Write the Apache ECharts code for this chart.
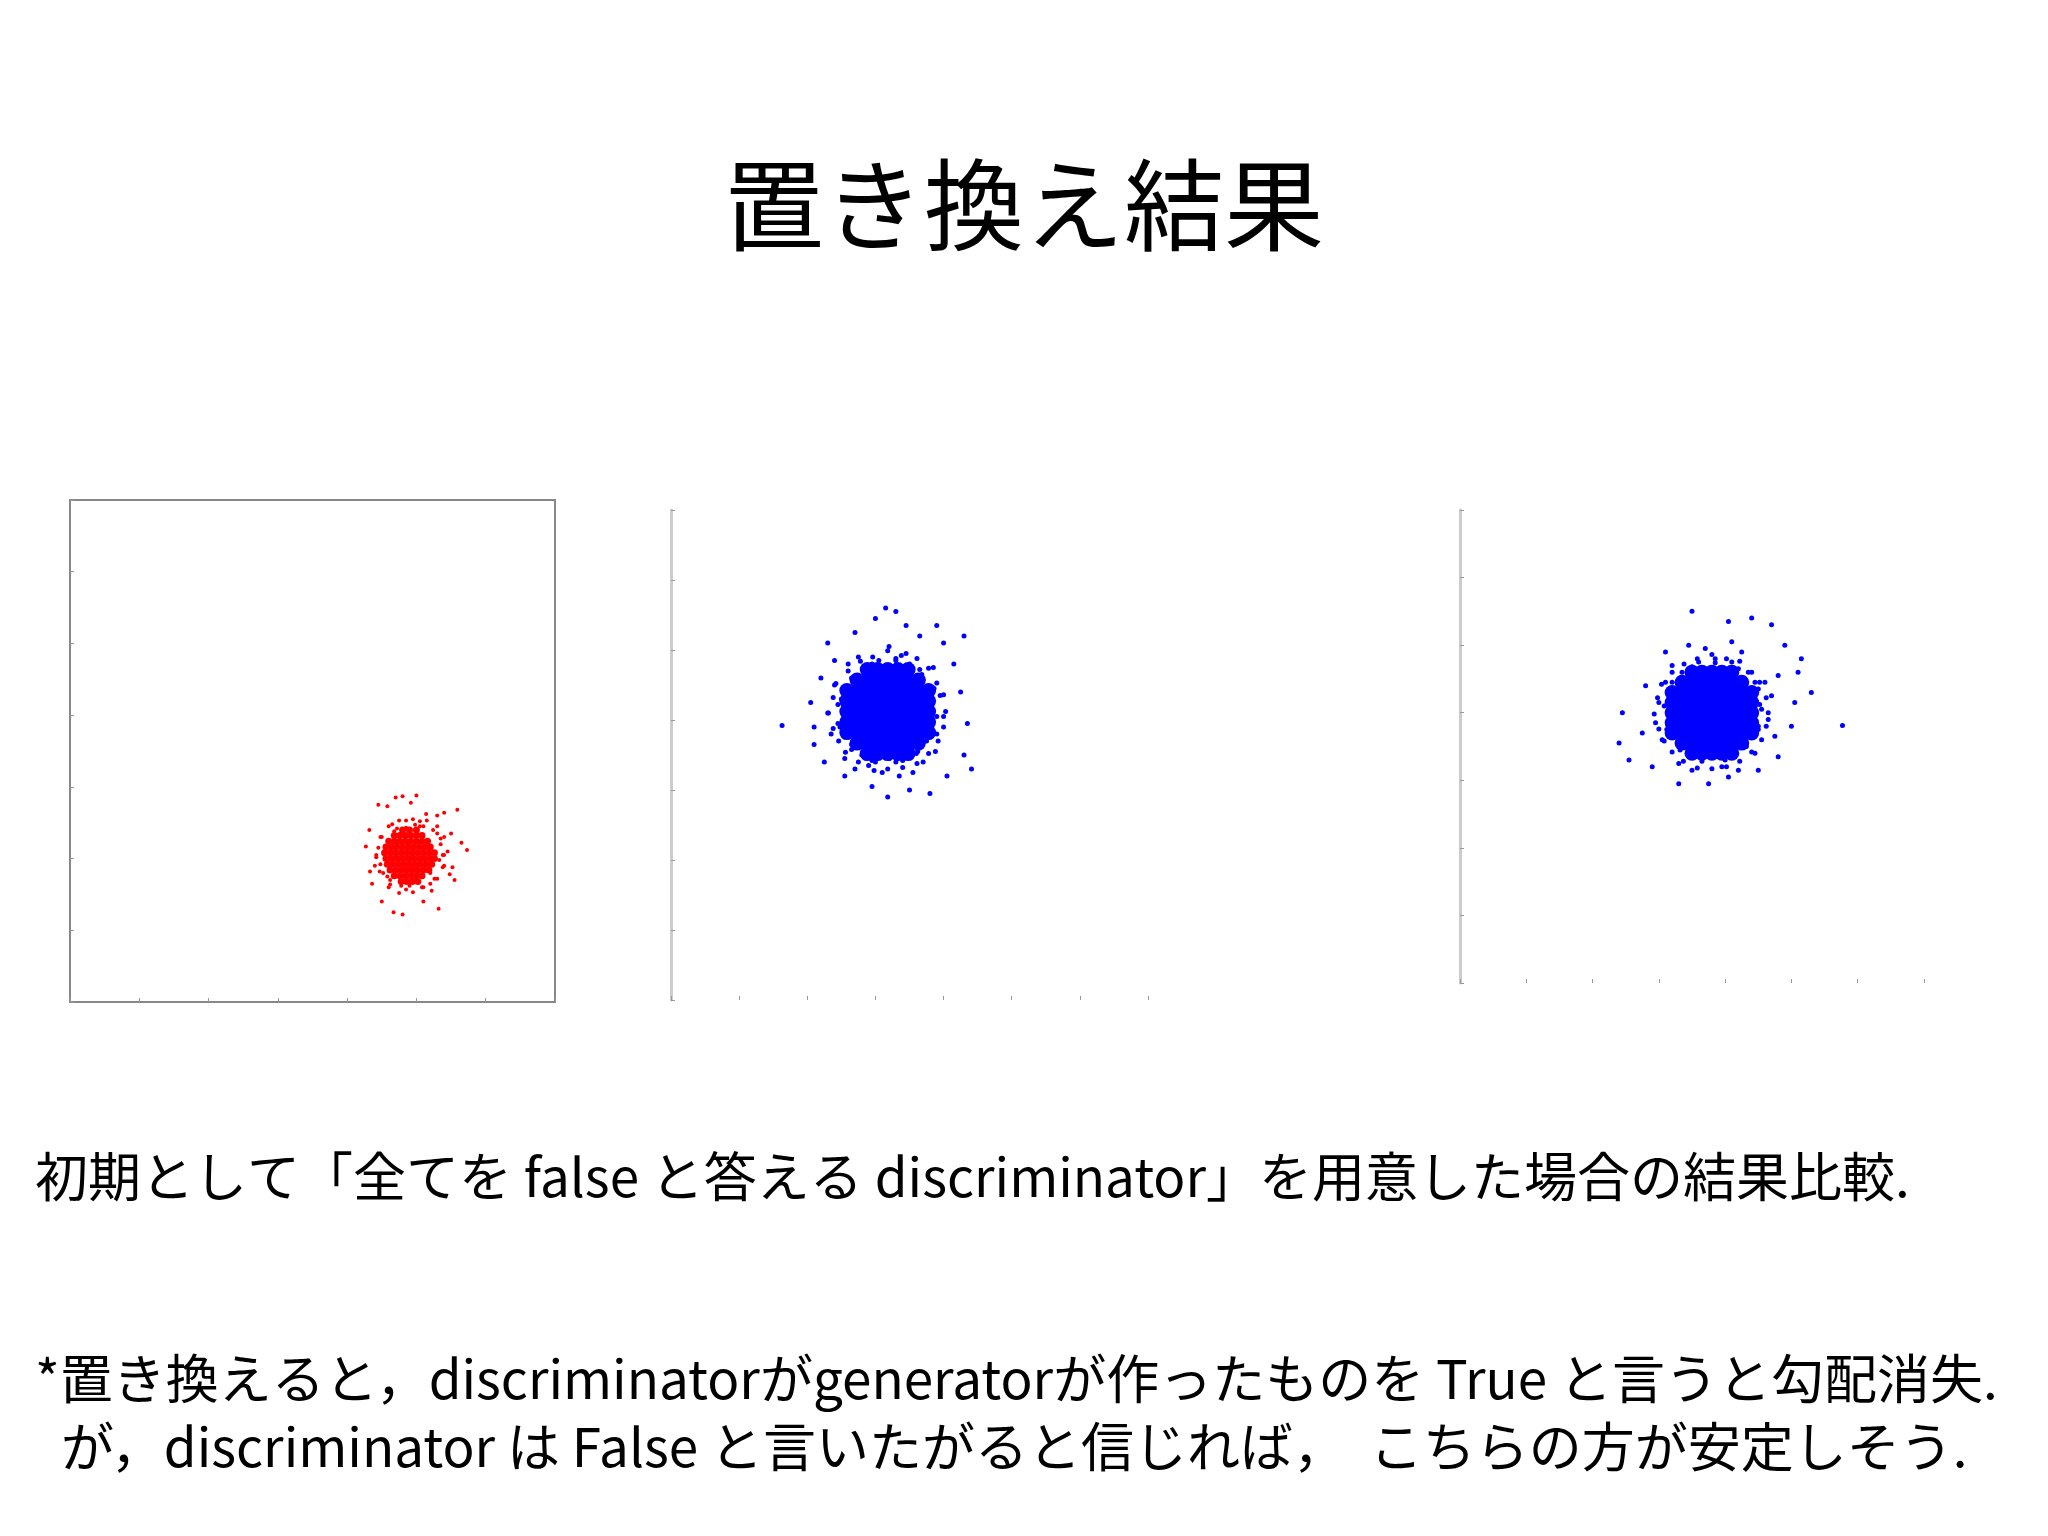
<!DOCTYPE html>
<html><head><meta charset="utf-8">
<script src="https://cdn.jsdelivr.net/npm/echarts@6/dist/echarts.min.js"></script>
<style>html,body{margin:0;padding:0;background:#fff}#c{width:2048px;height:1536px}</style>
</head><body><div id="c"></div>
<script>
const tickValues=[-3,-2,-1,0,1,2,3];
const titleText='置き換え結果';
const caption1='初期として「全てを false と答える discriminator」を用意した場合の結果比較.';
const caption2='*置き換えると，discriminatorがgeneratorが作ったものを True と言うと勾配消失.';
const caption3='が，discriminator は False と言いたがると信じれば，  こちらの方が安定しそう.';

const redOuter=[[1.5,-0.62],[1.3,-0.63],[1.2,-0.65],[0.95,-0.75],[1.08,-0.77],[2.09,-0.82],[1.9,-0.86],[0.82,-1.1],[2.15,-1.28],[2.23,-1.38],[0.77,-1.33],[0.83,-1.68],[0.86,-1.85],[1.0,-2.1],[1.17,-2.25],[1.3,-2.28],[1.82,-2.2],[1.6,-2.1],[2.05,-1.8],[1.72,-1.95],[0.9,-1.6],[2.0,-1.15],[1.42,-0.72],[1.64,-0.88],[1.8,-0.9],
[1.0,-1.2],[1.05,-1.5],[1.02,-1.7],[1.1,-1.9],[1.25,-1.98],[1.45,-1.97],[1.6,-1.9],[1.8,-1.78],[1.9,-1.6],[1.95,-1.4],[1.9,-1.2],[1.8,-1.05],[1.65,-0.97],[1.45,-0.95],[1.25,-0.97],[1.1,-1.05],[0.95,-1.35],[1.12,-1.8],[1.7,-1.7],[1.85,-1.3],[2.02,-1.62],[0.92,-1.48],[1.55,-1.05],[1.35,-1.07],[1.18,-1.12],[1.98,-1.72],[1.4,-1.88],[1.88,-1.45],
[1.9,-1.45],[1.85,-1.22],[1.74,-1.1],[1.55,-0.98],[1.35,-0.97],[1.15,-1.02],[0.98,-1.2],[0.92,-1.45],[0.97,-1.68],[1.12,-1.86],[1.35,-1.93],[1.58,-1.9],[1.76,-1.78],[1.88,-1.62],
[1.05,-1.32],[1.08,-1.75],[1.28,-1.88],[1.7,-1.85],[1.83,-1.52],[1.8,-1.15],[1.6,-1.05],[1.22,-1.08],[1.48,-1.03],[0.98,-1.58]];
// core rows: [y, x-values]
const redCoreRows=[[-1.1,[1.3,1.4,1.5]],[-1.18,[1.18,1.26,1.34,1.42,1.5,1.58]],[-1.26,[1.1,1.18,1.26,1.34,1.42,1.5,1.58,1.66]],[-1.34,[1.06,1.14,1.22,1.3,1.38,1.46,1.54,1.62,1.7]],[-1.42,[1.04,1.12,1.2,1.28,1.36,1.44,1.52,1.6,1.68,1.76]],[-1.5,[1.06,1.14,1.22,1.3,1.38,1.46,1.54,1.62,1.7,1.76]],[-1.58,[1.08,1.16,1.24,1.32,1.4,1.48,1.56,1.64,1.72]],[-1.66,[1.12,1.2,1.28,1.36,1.44,1.52,1.6,1.68]],[-1.74,[1.18,1.26,1.34,1.42,1.5,1.58]],[-1.82,[1.28,1.36,1.44,1.52]]];

const blueACoreRows=[[0.02,[-0.62,-0.47,-0.32,-0.17,-0.02]],[0.17,[-0.77,-0.62,-0.47,-0.32,-0.17,-0.02,0.13]],[0.32,[-0.92,-0.77,-0.62,-0.47,-0.32,-0.17,-0.02,0.13,0.28]],[0.47,[-0.92,-0.77,-0.62,-0.47,-0.32,-0.17,-0.02,0.13,0.28]],[0.62,[-0.92,-0.77,-0.62,-0.47,-0.32,-0.17,-0.02,0.13,0.28]],[0.77,[-0.92,-0.77,-0.62,-0.47,-0.32,-0.17,-0.02,0.13,0.28]],[0.92,[-0.92,-0.77,-0.62,-0.47,-0.32,-0.17,-0.02,0.13,0.28]],[1.07,[-0.77,-0.62,-0.47,-0.32,-0.17,-0.02,0.13]],[1.22,[-0.62,-0.47,-0.32,-0.17,-0.02]]];
const blueAOuter=[[-0.9,0.9],[-0.95,0.6],[-0.92,0.35],[-0.85,0.15],[-0.7,0.0],[-0.5,-0.1],[-0.3,-0.05],[-0.1,-0.08],[0.1,0.02],[0.25,0.2],[0.3,0.45],[0.32,0.7],[0.28,0.95],[0.18,1.15],[0.0,1.3],[-0.2,1.38],[-0.45,1.35],[-0.65,1.25],[-0.82,1.1],[-1.0,0.8],[-1.05,0.45],[-0.6,-0.15],[0.2,-0.1],[0.4,0.3],[0.45,0.85],[-0.05,1.45],[-0.75,1.4],[-1.1,1.0],[-1.15,0.3],[-0.95,-0.05],[-0.4,-0.25],[0.05,-0.25],[0.38,0.05],[0.5,0.55],[0.35,1.25],[-0.3,1.55],[-0.9,1.3],[-1.2,0.6],[-0.8,-0.2],[-0.15,-0.3],
[0.53,0.62],[0.50,0.86],[0.40,1.03],[0.28,1.24],[0.11,1.38],[-0.12,1.42],[-0.32,1.49],[-0.54,1.40],[-0.72,1.34],[-0.90,1.20],[-1.08,1.02],[-1.12,0.82],[-1.19,0.60],[-1.12,0.38],[-1.04,0.20],[-0.94,0.04],[-0.75,-0.10],[-0.52,-0.22],[-0.32,-0.20],[-0.10,-0.18],[0.11,-0.12],[0.28,0.02],[0.42,0.20],[0.50,0.40],
[0.40,0.55],[0.36,0.95],[0.15,1.22],[-0.20,1.35],[-0.55,1.30],[-0.85,1.10],[-1.05,0.72],[-1.02,0.40],[-0.85,0.08],[-0.55,-0.08],[-0.20,-0.10],[0.12,0.05],[0.35,0.30],
[-1.87,0.42],[-1.4,0.4],[-1.45,0.75],[-1.3,1.1],[-1.1,1.35],[-0.8,1.75],[-0.5,1.95],[-0.35,2.1],[-0.2,2.05],[-0.05,1.85],[0.15,1.7],[0.5,1.6],[0.8,1.7],[0.65,1.3],[0.75,0.9],[0.85,0.45],[0.8,0.0],[0.91,-0.2],[0.55,-0.3],[0.3,-0.55],[0.0,-0.5],[-0.32,-0.6],[-0.55,-0.45],[-0.95,-0.3],[-1.25,-0.1],[-1.4,0.15],[-1.2,1.6],[0.4,1.85]];

const blueBCoreRows=[[-0.1,[0.0,0.15,0.3,0.45,0.6]],[0.05,[-0.15,0.0,0.15,0.3,0.45,0.6,0.75]],[0.2,[-0.3,-0.15,0.0,0.15,0.3,0.45,0.6,0.75,0.9]],[0.35,[-0.3,-0.15,0.0,0.15,0.3,0.45,0.6,0.75,0.9]],[0.5,[-0.3,-0.15,0.0,0.15,0.3,0.45,0.6,0.75,0.9]],[0.65,[-0.3,-0.15,0.0,0.15,0.3,0.45,0.6,0.75,0.9]],[0.8,[-0.3,-0.15,0.0,0.15,0.3,0.45,0.6,0.75,0.9]],[0.95,[-0.15,0.0,0.15,0.3,0.45,0.6,0.75]],[1.1,[0.0,0.15,0.3,0.45,0.6]]];
const blueBOuter=[[0.3,-0.05],[0.55,-0.15],[0.8,0.05],[1.0,0.25],[1.05,0.55],[1.0,0.85],[0.85,1.1],[0.6,1.25],[0.35,1.3],[0.1,1.25],[-0.15,1.1],[-0.3,0.85],[-0.35,0.55],[-0.3,0.25],[-0.15,0.0],[0.05,-0.15],[0.45,-0.3],[0.95,-0.1],[1.15,0.4],[1.1,0.95],[0.75,1.4],[0.2,1.45],[-0.3,1.2],[-0.5,0.65],[-0.45,0.1],[-0.2,-0.25],[1.2,0.75],[1.25,0.15],[0.6,1.55],[-0.05,1.5],[-0.55,0.35],[0.7,-0.35],[0.0,-0.35],[1.3,1.05],[-0.4,0.95],
[1.15,0.5],[1.12,0.72],[1.02,0.95],[0.90,1.10],[0.72,1.26],[0.52,1.30],[0.30,1.36],[0.08,1.30],[-0.12,1.22],[-0.30,1.10],[-0.46,0.92],[-0.52,0.72],[-0.57,0.48],[-0.50,0.26],[-0.42,0.08],[-0.30,-0.08],[-0.13,-0.22],[0.08,-0.32],[0.30,-0.33],[0.52,-0.30],[0.72,-0.22],[0.90,-0.08],[1.05,0.10],[1.12,0.30],
[1.02,0.62],[0.95,0.95],[0.70,1.15],[0.35,1.24],[0.00,1.18],[-0.30,0.95],[-0.42,0.60],[-0.38,0.25],[-0.18,-0.05],[0.15,-0.22],[0.50,-0.20],[0.82,0.0],[1.00,0.30],
[2.27,0.31],[1.8,0.8],[1.6,1.1],[1.65,1.3],[1.4,1.5],[1.2,1.8],[0.9,1.9],[0.55,1.85],[0.0,2.0],[-0.4,1.4],[-0.7,0.9],[-1.05,0.5],[-1.1,0.05],[-0.95,-0.2],[-0.6,-0.3],[-0.2,-0.55],[0.25,-0.55],[0.55,-0.45],[1.0,-0.35],[1.3,-0.15],[1.5,0.3],[1.55,0.65],[-0.75,0.2]];

function rows(r){const out=[];r.forEach(([y,xs])=>xs.forEach(x=>out.push([x,y])));return out;}
const jp='"Noto Sans CJK JP","Noto Sans",sans-serif';
function ax(i,type,boxed){
  return {type:'value',gridIndex:i,min:-3.5,max:3.5,interval:1,
    splitLine:{show:false},
    axisLine:{onZero:false,show:boxed||type==='y',lineStyle:{color:boxed?'#888':'#ccc',width:boxed?2:3}},
    axisTick:{show:true,inside:true,length:4,lineStyle:{color:'#999'}},
    axisLabel:{show:true,showMinLabel:true,showMaxLabel:true,fontSize:boxed?9:7,color:boxed?'#444':'#aaa',margin:boxed?10:7,
      formatter:v=>(tickValues.indexOf(Math.round(v*100)/100)>=0?String(v).replace('-','\u2212'):'')}};
}
const grids=[{left:70,top:500,width:485,height:502,show:true,borderColor:'#888',borderWidth:2},
             {left:671,top:510,width:477,height:490},
             {left:1460,top:510,width:464,height:473}];
const xAxes=[0,1,2].map(i=>ax(i,'x',i===0));
const yAxes=[0,1,2].map(i=>ax(i,'y',i===0));
function sc(i,data,color,size){return {type:'scatter',xAxisIndex:i,yAxisIndex:i,data,symbolSize:size,itemStyle:{color,opacity:1},silent:true,animation:false};}
const chart=echarts.init(document.getElementById('c'));
chart.setOption({backgroundColor:'#fff',animation:false,
  grid:grids,xAxis:xAxes,yAxis:yAxes,
  series:[sc(0,redOuter,'#ff0000',4),sc(0,rows(redCoreRows),'#ff0000',7),
          sc(1,blueAOuter,'#0000ff',5),sc(1,rows(blueACoreRows),'#0000ff',15),
          sc(2,blueBOuter,'#0000ff',5),sc(2,rows(blueBCoreRows),'#0000ff',15)],
  graphic:[
    {type:'text',left:'center',top:155,style:{text:titleText,font:'100px '+jp,fill:'#000'}},
    {type:'text',left:35,top:1150,style:{text:caption1,font:'53px '+jp,fill:'#000'}},
    {type:'text',left:35,top:1352,style:{text:caption2,font:'53px '+jp,fill:'#000'}},
    {type:'text',left:61,top:1420,style:{text:caption3,font:'53px '+jp,fill:'#000'}}
  ]});
</script></body></html>
